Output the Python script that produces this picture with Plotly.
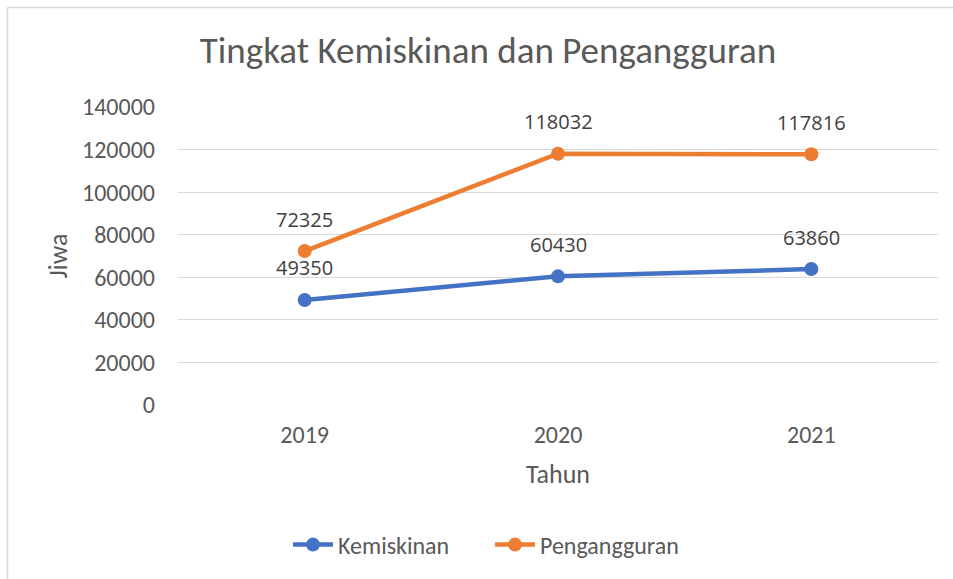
import plotly.graph_objects as go

years = ["2019", "2020", "2021"]
kemiskinan = [49350, 60430, 63860]
pengangguran = [72325, 118032, 117816]
y_ticks = [0, 20000, 40000, 60000, 80000, 100000, 120000, 140000]

W, H = 953, 579
L, R, T, B = 178, 15, 107, 174

FONT = "Carlito, 'Liberation Sans Narrow', 'Open Sans', sans-serif"
LABEL_FONT = "'Open Sans', 'Noto Sans', sans-serif"
BLUE = "#4472C4"
ORANGE = "#ED7D31"
GREY = "#595959"

fig = go.Figure()
for name, vals, col in [("Kemiskinan", kemiskinan, BLUE), ("Pengangguran", pengangguran, ORANGE)]:
    fig.add_trace(go.Scatter(
        x=years, y=vals, name=name, mode="lines+markers",
        line=dict(color=col, width=4.5),
        marker=dict(color=col, size=14),
    ))

annotations = []
for vals in (kemiskinan, pengangguran):
    for i, v in enumerate(vals):
        annotations.append(dict(
            x=i, y=v, xref="x", yref="y", text=str(v), showarrow=False,
            yshift=32, font=dict(family=LABEL_FONT, size=20, color="#404040"),
        ))

pw = W - L - R
ph = H - T - B
def px_x(p):
    return (p - L) / pw
def px_y(p):
    return (H - B - p) / ph

shapes = [
    dict(type="line", xref="paper", yref="paper", x0=px_x(7.5), x1=px_x(W + 5),
         y0=px_y(7.5), y1=px_y(7.5), line=dict(color="#D9D9D9", width=1.5)),
    dict(type="line", xref="paper", yref="paper", x0=px_x(7.5), x1=px_x(7.5),
         y0=px_y(7.5), y1=px_y(H + 5), line=dict(color="#D9D9D9", width=1.5)),
]

fig.update_layout(
    width=W, height=H,
    margin=dict(l=L, r=R, t=T, b=B, autoexpand=False),
    paper_bgcolor="white", plot_bgcolor="white",
    title=dict(text="Tingkat Kemiskinan dan Pengangguran", x=488 / W, xanchor="center",
               y=1 - 50 / H, yanchor="middle",
               font=dict(family=FONT, size=37, color=GREY)),
    xaxis=dict(
        type="category", showgrid=False, zeroline=False, showline=False,
        ticks="", ticklabelstandoff=13, tickfont=dict(family=FONT, size=24, color=GREY),
        title=dict(text="Tahun", font=dict(family=FONT, size=26, color=GREY), standoff=16),
        range=[-0.5, 2.5],
    ),
    yaxis=dict(
        range=[0, 140000], tickvals=y_ticks, ticktext=[str(v) for v in y_ticks],
        showgrid=True, gridcolor="#D9D9D9", gridwidth=1.3, zeroline=False,
        showline=False, ticks="", ticklabelstandoff=22,
        tickfont=dict(family=FONT, size=24, color=GREY),
        title=dict(text="Jiwa", font=dict(family=FONT, size=26, color=GREY), standoff=6),
    ),
    legend=dict(orientation="h", x=px_x(490), xanchor="center", y=px_y(545), yanchor="middle",
                font=dict(family=FONT, size=24, color=GREY), itemwidth=40, traceorder="normal",
                entrywidth=147, entrywidthmode="pixels"),
    annotations=annotations,
    shapes=shapes,
)

fig.write_html("out.html", config={"displayModeBar": False},
               post_script="document.body.style.margin='0';")
